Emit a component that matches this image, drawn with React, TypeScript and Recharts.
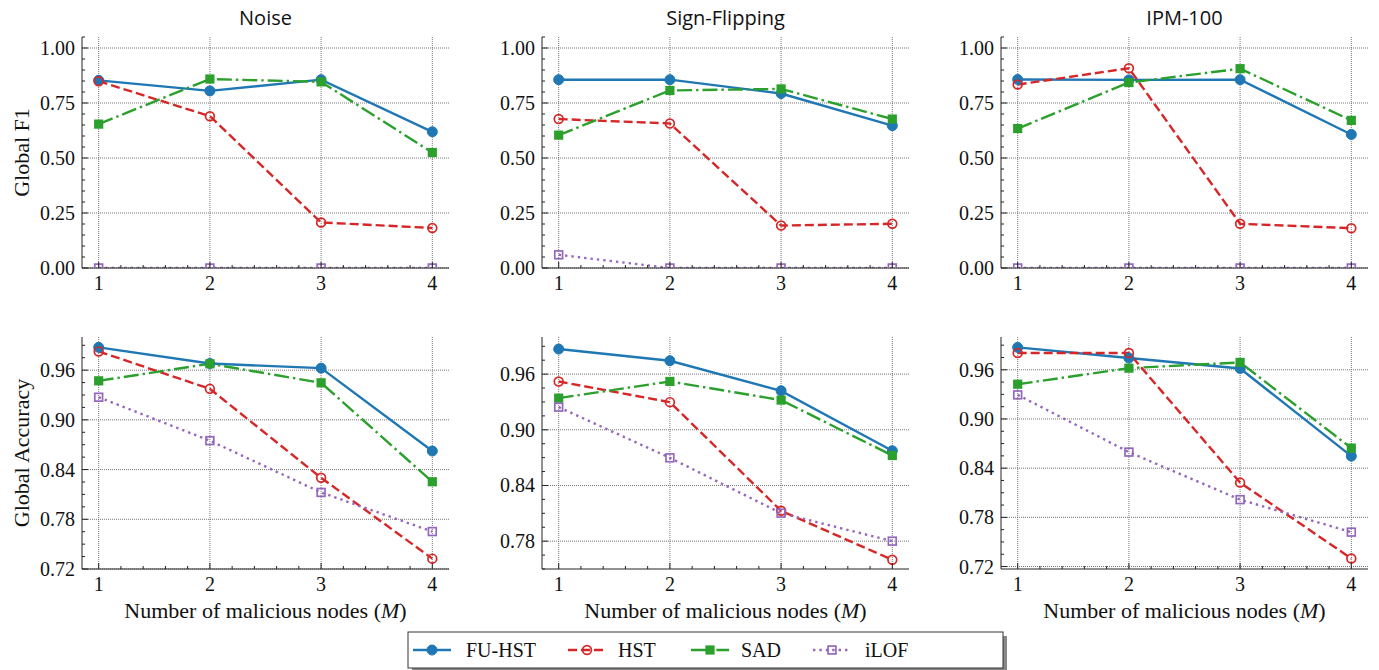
import React from "react";
import { CartesianGrid, Line, LineChart, XAxis, YAxis } from "recharts";

// x values: number of malicious nodes
const nodes = [1, 2, 3, 4];
const attackTitles = ["Noise", "Sign-Flipping", "IPM-100"];
const metricLabels = ["Global F1", "Global Accuracy"];
const seriesNames = ["FU-HST", "HST", "SAD", "iLOF"];

// Global F1
const noiseF1FuHst = [0.853, 0.805, 0.856, 0.619];
const noiseF1Hst = [0.849, 0.69, 0.207, 0.182];
const noiseF1Sad = [0.654, 0.859, 0.846, 0.525];
const noiseF1Ilof = [0, 0, 0, 0];

const signF1FuHst = [0.856, 0.856, 0.793, 0.647];
const signF1Hst = [0.677, 0.657, 0.193, 0.201];
const signF1Sad = [0.604, 0.807, 0.814, 0.677];
const signF1Ilof = [0.06, 0, 0, 0];

const ipmF1FuHst = [0.857, 0.855, 0.856, 0.607];
const ipmF1Hst = [0.834, 0.908, 0.201, 0.181];
const ipmF1Sad = [0.634, 0.843, 0.906, 0.671];
const ipmF1Ilof = [0, 0, 0, 0];

// Global accuracy
const noiseAccFuHst = [0.9875, 0.968, 0.9624, 0.8624];
const noiseAccHst = [0.9826, 0.9374, 0.8301, 0.7325];
const noiseAccSad = [0.9471, 0.9677, 0.9447, 0.8253];
const noiseAccIlof = [0.9273, 0.8749, 0.8124, 0.7652];

const signAccFuHst = [0.987, 0.9744, 0.942, 0.8774];
const signAccHst = [0.9521, 0.9298, 0.8127, 0.7599];
const signAccSad = [0.9341, 0.9521, 0.932, 0.8723];
const signAccIlof = [0.9244, 0.8698, 0.8102, 0.78];

const ipmAccFuHst = [0.9873, 0.9743, 0.9616, 0.8547];
const ipmAccHst = [0.9804, 0.9804, 0.8224, 0.7298];
const ipmAccSad = [0.9424, 0.962, 0.969, 0.8645];
const ipmAccIlof = [0.9294, 0.8596, 0.8016, 0.762];

// tick labels
const f1Ticks = [0, 0.25, 0.5, 0.75, 1.0];
const accTicks = [0.72, 0.78, 0.84, 0.9, 0.96];
const signAccTicks = [0.78, 0.84, 0.9, 0.96];

const COLORS = ["#1f77b4", "#d62728", "#2ca02c", "#9467bd"];
const DASHES = [undefined, "9 4", "15 4 2.4 4", "2.4 4"];
const SHAPES = ["disc", "ring", "square", "box"];
const KEYS = ["fu", "hst", "sad", "ilof"];

const SERIF = "'Liberation Serif', 'Times New Roman', serif";
const SANS = "'Open Sans', 'DejaVu Sans', sans-serif";

const COL_X = [82, 542, 1001];
const ROW_Y = [37, 337];
const BOX_W = 367;
const BOX_H = [231, 232];

function buildRows(series: number[][]) {
  return nodes.map((m, i) => ({
    m,
    fu: series[0][i],
    hst: series[1][i],
    sad: series[2][i],
    ilof: series[3][i],
  }));
}

function steps(lo: number, hi: number, step: number) {
  const out: number[] = [];
  for (let v = lo; v <= hi + 1e-9; v += step) out.push(Math.round(v * 1000) / 1000);
  return out;
}

const panels = [
  { row: 0, col: 0, data: buildRows([noiseF1FuHst, noiseF1Hst, noiseF1Sad, noiseF1Ilof]), domain: [0, 1.05], majors: f1Ticks, all: steps(0, 1.05, 0.05) },
  { row: 0, col: 1, data: buildRows([signF1FuHst, signF1Hst, signF1Sad, signF1Ilof]), domain: [0, 1.05], majors: f1Ticks, all: steps(0, 1.05, 0.05) },
  { row: 0, col: 2, data: buildRows([ipmF1FuHst, ipmF1Hst, ipmF1Sad, ipmF1Ilof]), domain: [0, 1.05], majors: f1Ticks, all: steps(0, 1.05, 0.05) },
  { row: 1, col: 0, data: buildRows([noiseAccFuHst, noiseAccHst, noiseAccSad, noiseAccIlof]), domain: [0.72, 1.0], majors: accTicks, all: steps(0.72, 1.0, 0.015) },
  { row: 1, col: 1, data: buildRows([signAccFuHst, signAccHst, signAccSad, signAccIlof]), domain: [0.75, 1.0], majors: signAccTicks, all: steps(0.75, 1.0, 0.015) },
  { row: 1, col: 2, data: buildRows([ipmAccFuHst, ipmAccHst, ipmAccSad, ipmAccIlof]), domain: [0.717, 1.0], majors: accTicks, all: steps(0.72, 1.0, 0.015) },
];

const xAll = steps(1, 4, 0.2);

const isMajor = (v: number, majors: number[]) => majors.some((m) => Math.abs(m - v) < 1e-6);

function Marker({ shape, color, cx, cy }: { shape: string; color: string; cx: number; cy: number }) {
  if (shape === "disc") return <circle cx={cx} cy={cy} r={5} fill={color} stroke={color} />;
  if (shape === "ring") return <circle cx={cx} cy={cy} r={4.4} fill="none" stroke={color} strokeWidth={1.7} />;
  if (shape === "square") return <rect x={cx - 4.6} y={cy - 4.6} width={9.2} height={9.2} fill={color} />;
  return <rect x={cx - 3.9} y={cy - 3.9} width={7.8} height={7.8} fill="none" stroke={color} strokeWidth={1.7} />;
}

function dotFor(i: number) {
  return (p: any) => (
    <g key={`d-${i}-${p.index}`}>
      {p.cx != null && p.cy != null ? <Marker shape={SHAPES[i]} color={COLORS[i]} cx={p.cx} cy={p.cy} /> : null}
    </g>
  );
}

const MAJOR = 6;
const MINOR = 3;

function Panel({ p }: { p: (typeof panels)[number] }) {
  const x0 = COL_X[p.col];
  const y0 = ROW_Y[p.row];
  const h = BOX_H[p.row];
  const xMajors = nodes;

  const bottomTick = (t: any) => {
    const v = t.payload.value;
    const major = isMajor(v, xMajors);
    return (
      <g>
        <line x1={t.x} x2={t.x} y1={t.y} y2={t.y - (major ? MAJOR : MINOR)} stroke="#222" />
        {major ? (
          <text x={t.x} y={t.y + 22} textAnchor="middle" fontFamily={SERIF} fontSize={20} fill="#111">
            {v}
          </text>
        ) : null}
      </g>
    );
  };
  const topTick = (t: any) => {
    const major = isMajor(t.payload.value, xMajors);
    return <line x1={t.x} x2={t.x} y1={t.y} y2={t.y + (major ? MAJOR : MINOR)} stroke="#222" />;
  };
  const leftTick = (t: any) => {
    const v = t.payload.value;
    const major = isMajor(v, p.majors);
    return (
      <g>
        <line x1={t.x} x2={t.x + (major ? MAJOR : MINOR)} y1={t.y} y2={t.y} stroke="#222" />
        {major ? (
          <text x={t.x - 7} y={t.y + 7} textAnchor="end" fontFamily={SERIF} fontSize={20} fill="#111">
            {v.toFixed(2)}
          </text>
        ) : null}
      </g>
    );
  };
  const rightTick = (t: any) => {
    const major = isMajor(t.payload.value, p.majors);
    return <line x1={t.x} x2={t.x - (major ? MAJOR : MINOR)} y1={t.y} y2={t.y} stroke="#222" />;
  };

  return (
    <div style={{ position: "absolute", left: x0 - 60, top: y0 - 10 }}>
      <LineChart width={BOX_W + 70} height={h + 40} data={p.data} margin={{ top: 10, right: 10, bottom: 0, left: 0 }}>
        <CartesianGrid
          xAxisId="b"
          yAxisId="l"
          verticalValues={nodes}
          horizontalValues={p.majors}
          stroke="#666"
          strokeWidth={0.9}
          strokeDasharray="1 1"
        />
        <XAxis xAxisId="b" dataKey="m" type="number" domain={[0.85, 4.15]} allowDataOverflow ticks={xAll} interval={0} tickSize={0} tickMargin={0} height={30} tick={bottomTick} axisLine={{ stroke: "#222" }} tickLine={false} />
        <XAxis xAxisId="t" orientation="top" dataKey="m" type="number" domain={[0.85, 4.15]} allowDataOverflow ticks={xAll} interval={0} tickSize={0} tickMargin={0} height={0} tick={topTick} axisLine={{ stroke: "#222" }} tickLine={false} />
        <YAxis yAxisId="l" type="number" domain={p.domain} allowDataOverflow ticks={p.all} interval={0} tickSize={0} tickMargin={0} width={60} tick={leftTick} axisLine={{ stroke: "#222" }} tickLine={false} />
        <YAxis yAxisId="r" orientation="right" type="number" domain={p.domain} allowDataOverflow ticks={p.all} interval={0} tickSize={0} tickMargin={0} width={0} tick={rightTick} axisLine={{ stroke: "#222" }} tickLine={false} />
        {KEYS.map((k, i) => (
          <Line
            key={k}
            xAxisId="b"
            yAxisId="l"
            dataKey={k}
            type="linear"
            stroke={COLORS[i]}
            strokeWidth={2.4}
            strokeDasharray={DASHES[i]}
            dot={dotFor(i)}
            activeDot={false}
            isAnimationActive={false}
          />
        ))}
      </LineChart>
    </div>
  );
}

const LEGEND_X = [413, 568, 691, 813];
const LEGEND_TEXT_X = [466, 618, 741, 865];

function Overlay() {
  return (
    <svg width={1379} height={670} style={{ position: "absolute", left: 0, top: 0, pointerEvents: "none" }}>
      {attackTitles.map((t, c) => (
        <text key={t} x={COL_X[c] + BOX_W / 2} y={25} textAnchor="middle" fontFamily={SANS} fontSize={20} fill="#111">
          {t}
        </text>
      ))}
      {metricLabels.map((t, r) => (
        <text
          key={t}
          transform={`translate(29, ${ROW_Y[r] + BOX_H[r] / 2}) rotate(-90)`}
          textAnchor="middle"
          fontFamily={SERIF}
          fontSize={22}
          fill="#111"
        >
          {t}
        </text>
      ))}
      {attackTitles.map((t, c) => (
        <text key={`xl-${t}`} x={COL_X[c] + BOX_W / 2} y={618} textAnchor="middle" fontFamily={SERIF} fontSize={22} fill="#111">
          Number of malicious nodes (<tspan fontStyle="italic">M</tspan>)
        </text>
      ))}
      <rect x={412} y={636} width={595} height={36} fill="#888" />
      <rect x={408} y={632} width={595} height={36} fill="#fff" stroke="#333" strokeWidth={1} />
      {seriesNames.map((n, i) => (
        <g key={n}>
          <line x1={LEGEND_X[i]} x2={LEGEND_X[i] + 38} y1={650} y2={650} stroke={COLORS[i]} strokeWidth={2.4} strokeDasharray={DASHES[i]} />
          <Marker shape={SHAPES[i]} color={COLORS[i]} cx={LEGEND_X[i] + 19} cy={650} />
          <text x={LEGEND_TEXT_X[i]} y={657} fontFamily={SERIF} fontSize={20} fill="#111">
            {n}
          </text>
        </g>
      ))}
    </svg>
  );
}

export default function App() {
  return (
    <div style={{ position: "absolute", left: 0, top: 0, width: 1379, height: 670, background: "#fff" }}>
      {panels.map((p) => (
        <Panel key={`${p.row}-${p.col}`} p={p} />
      ))}
      <Overlay />
    </div>
  );
}
